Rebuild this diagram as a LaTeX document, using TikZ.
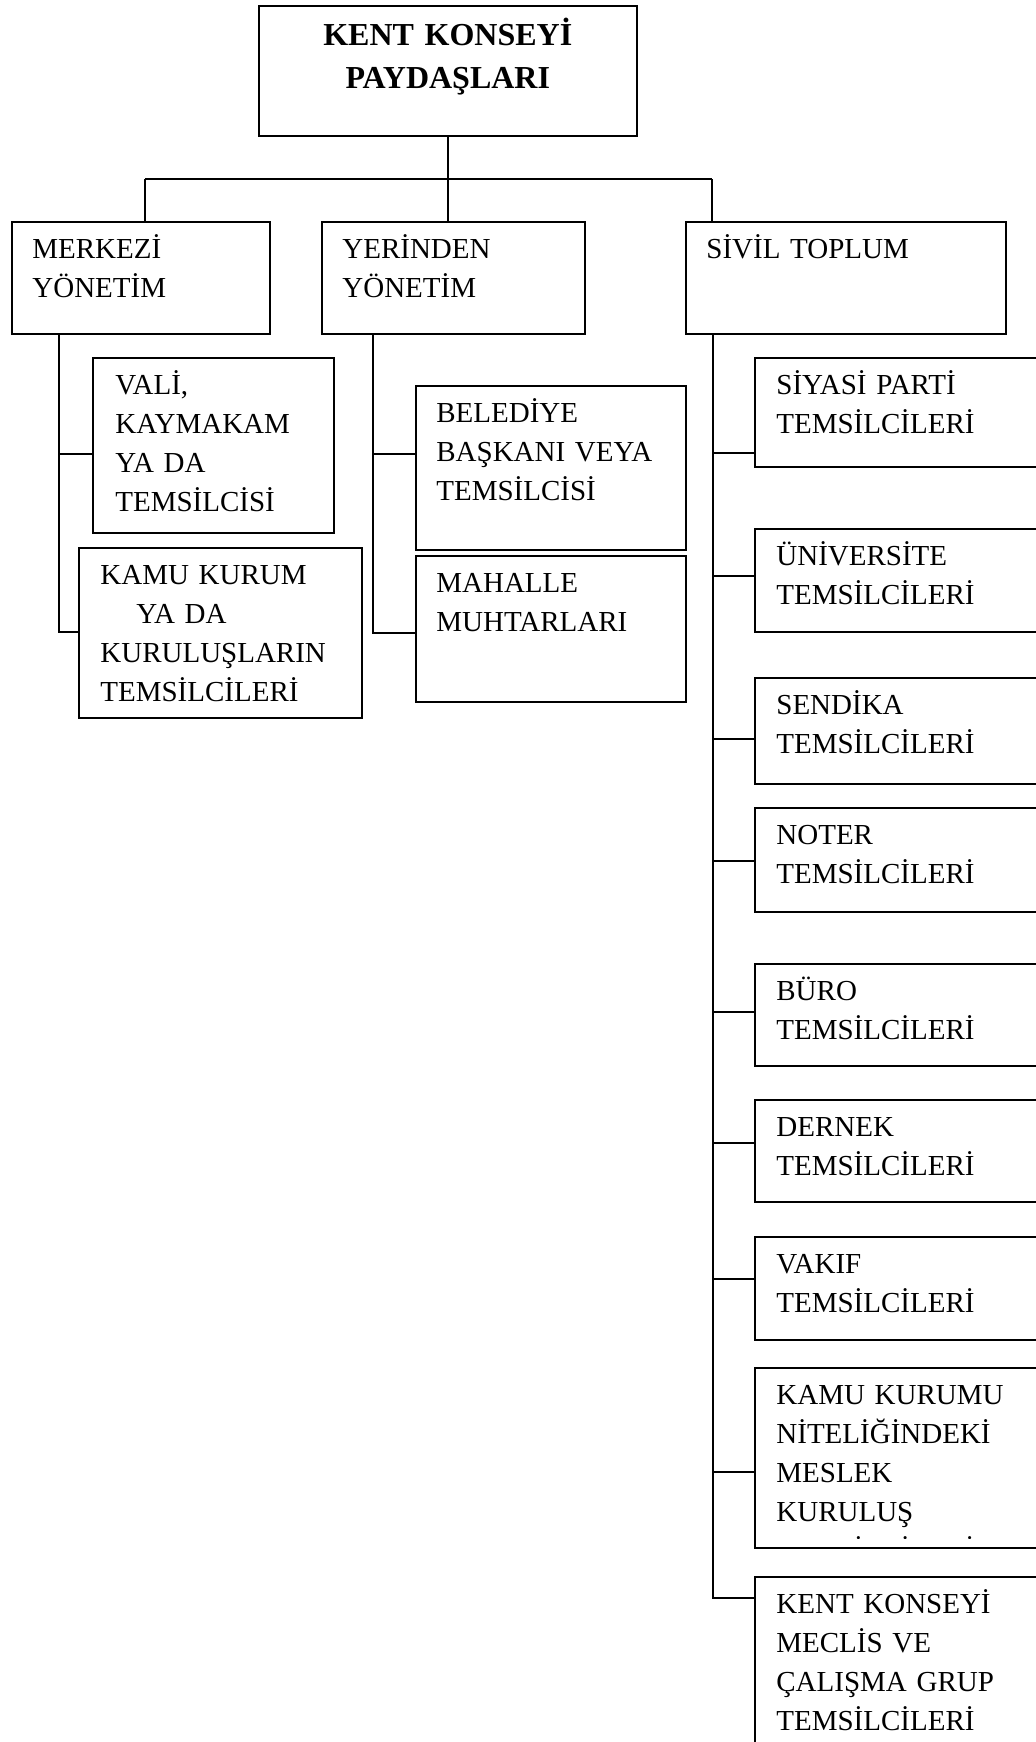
\documentclass[tikz,border=0pt]{standalone}
\usepackage{fontspec}
\setmainfont{Liberation Serif}
\newcommand{\metin}{\fontsize{14.5}{19.5}\selectfont}
\newcommand{\baslikfont}{\fontsize{16}{21.5}\selectfont\bfseries}
\begin{document}
\begin{tikzpicture}[x=0.5pt, y=-0.5pt,
		kutu/.style={draw, line width=0.8pt, anchor=north west, inner sep=0pt},
		yazi/.style={anchor=base west, inner sep=0pt, text width=160pt, align=left, font=\metin},
		hat/.style={line width=0.75pt}]
	\useasboundingbox (0,0) rectangle (1035,1742);
	% kutular
	\node[kutu, minimum width=189pt, minimum height=65pt] (kk) 	at (258,5) 	{};
	\node[kutu, minimum width=129pt, minimum height=56pt] (merk) 	at (11,221) 	{};
	\node[kutu, minimum width=131.5pt, minimum height=56pt] (yer) 	at (321,221) 	{};
	\node[kutu, minimum width=160pt, minimum height=56pt] (sivil) 	at (685,221) 	{};
	\node[kutu, minimum width=120.5pt, minimum height=87.5pt] (vali) 	at (92,357) 	{};
	\node[kutu, minimum width=141.5pt, minimum height=85pt] (kamu) 	at (78,547) 	{};
	\node[kutu, minimum width=135pt, minimum height=82pt] (bel) 	at (415,385) 	{};
	\node[kutu, minimum width=135pt, minimum height=73pt] (mah) 	at (415,555) 	{};
	\node[kutu, minimum width=150pt, minimum height=54.5pt] (siy) 	at (754,357) 	{};
	\node[kutu, minimum width=150pt, minimum height=51.5pt] (uni) 	at (754,528) 	{};
	\node[kutu, minimum width=150pt, minimum height=53pt] (sen) 	at (754,677) 	{};
	\node[kutu, minimum width=150pt, minimum height=52pt] (noter) 	at (754,807) 	{};
	\node[kutu, minimum width=150pt, minimum height=51pt] (buro) 	at (754,963) 	{};
	\node[kutu, minimum width=150pt, minimum height=51pt] (der) 	at (754,1099) 	{};
	\node[kutu, minimum width=150pt, minimum height=51.5pt] (vak) 	at (754,1236) 	{};
	\node[kutu, minimum width=150pt, minimum height=90pt] (kmk) 	at (754,1367) 	{};
	\node[kutu, minimum width=150pt, minimum height=100pt] (kent) 	at (754,1576) 	{};
	% yazilar
	\node[font=\baslikfont, align=center, anchor=base, inner sep=0pt, text width=180pt] (kk-t) at ([shift={(0,40)}]kk.north) {KENT KONSEYİ\\PAYDAŞLARI};
	\node[yazi] (merk-t) 	at ([shift={(21,37)}]merk.north west) 	{MERKEZİ\\YÖNETİM};
	\node[yazi] (yer-t) 	at ([shift={(21,37)}]yer.north west) 	{YERİNDEN\\YÖNETİM};
	\node[yazi] (sivil-t) 	at ([shift={(21,37)}]sivil.north west) 	{SİVİL TOPLUM};
	\node[yazi] (vali-t) 	at ([shift={(23,37)}]vali.north west) 	{VALİ,\\KAYMAKAM\\YA DA\\TEMSİLCİSİ};
	\node[yazi] (kamu-t) 	at ([shift={(22,37)}]kamu.north west) 	{KAMU KURUM\\\hspace*{18pt}YA DA\\KURULUŞLARIN\\TEMSİLCİLERİ};
	\node[yazi] (bel-t) 	at ([shift={(21,37)}]bel.north west) 	{BELEDİYE\\BAŞKANI VEYA\\TEMSİLCİSİ};
	\node[yazi] (mah-t) 	at ([shift={(21,37)}]mah.north west) 	{MAHALLE\\MUHTARLARI};
	\node[yazi] (siy-t) 	at ([shift={(22,37)}]siy.north west) 	{SİYASİ PARTİ\\TEMSİLCİLERİ};
	\node[yazi] (uni-t) 	at ([shift={(22,37)}]uni.north west) 	{ÜNİVERSİTE\\TEMSİLCİLERİ};
	\node[yazi] (sen-t) 	at ([shift={(22,37)}]sen.north west) 	{SENDİKA\\TEMSİLCİLERİ};
	\node[yazi] (noter-t) 	at ([shift={(22,37)}]noter.north west) 	{NOTER\\TEMSİLCİLERİ};
	\node[yazi] (buro-t) 	at ([shift={(22,37)}]buro.north west) 	{BÜRO\\TEMSİLCİLERİ};
	\node[yazi] (der-t) 	at ([shift={(22,37)}]der.north west) 	{DERNEK\\TEMSİLCİLERİ};
	\node[yazi] (vak-t) 	at ([shift={(22,37)}]vak.north west) 	{VAKIF\\TEMSİLCİLERİ};
	\begin{scope}
		\clip ([shift={(0,-10)}]kmk.south west) rectangle (kmk.north east);
		\node[yazi] (kmk-t) at ([shift={(22,37)}]kmk.north west) {KAMU KURUMU\\NİTELİĞİNDEKİ\\MESLEK\\KURULUŞ\\TEMSİLCİLERİ};
	\end{scope}
	\node[yazi] (kent-t) 	at ([shift={(22,37)}]kent.north west) 	{KENT KONSEYİ\\MECLİS VE\\ÇALIŞMA GRUP\\TEMSİLCİLERİ};
	% ust baglantilar
	\coordinate (b1) at (145,179);
	\coordinate (b3) at (712,179);
	\draw[hat] (kk.south) -- (kk.south |- b1);
	\draw[hat] (b1) -- (b3);
	\draw[hat] (b1) -- (b1 |- merk.north);
	\draw[hat] (kk.south |- b1) -- (kk.south |- yer.north);
	\draw[hat] (b3) -- (b3 |- sivil.north);
	% merkezi yonetim
	\coordinate (m1) at (59,454);
	\coordinate (m2) at (59,632);
	\draw[hat] (m1 |- merk.south) -- (m2) -- (kamu.west |- m2);
	\draw[hat] (m1) -- (vali.west |- m1);
	% yerinden yonetim
	\coordinate (y1) at (373,454);
	\coordinate (y2) at (373,633);
	\draw[hat] (y1 |- yer.south) -- (y2) -- (mah.west |- y2);
	\draw[hat] (y1) -- (bel.west |- y1);
	% sivil toplum
	\coordinate (s1) at (713,453);
	\coordinate (s2) at (713,576);
	\coordinate (s3) at (713,739);
	\coordinate (s4) at (713,861);
	\coordinate (s5) at (713,1012);
	\coordinate (s6) at (713,1143);
	\coordinate (s7) at (713,1279);
	\coordinate (s8) at (713,1472);
	\coordinate (s9) at (713,1598);
	\draw[hat] (s1 |- sivil.south) -- (s9) -- (kent.west |- s9);
	\draw[hat] (s1) -- (siy.west |- s1);
	\draw[hat] (s2) -- (uni.west |- s2);
	\draw[hat] (s3) -- (sen.west |- s3);
	\draw[hat] (s4) -- (noter.west |- s4);
	\draw[hat] (s5) -- (buro.west |- s5);
	\draw[hat] (s6) -- (der.west |- s6);
	\draw[hat] (s7) -- (vak.west |- s7);
	\draw[hat] (s8) -- (kmk.west |- s8);
\end{tikzpicture}
\end{document}
